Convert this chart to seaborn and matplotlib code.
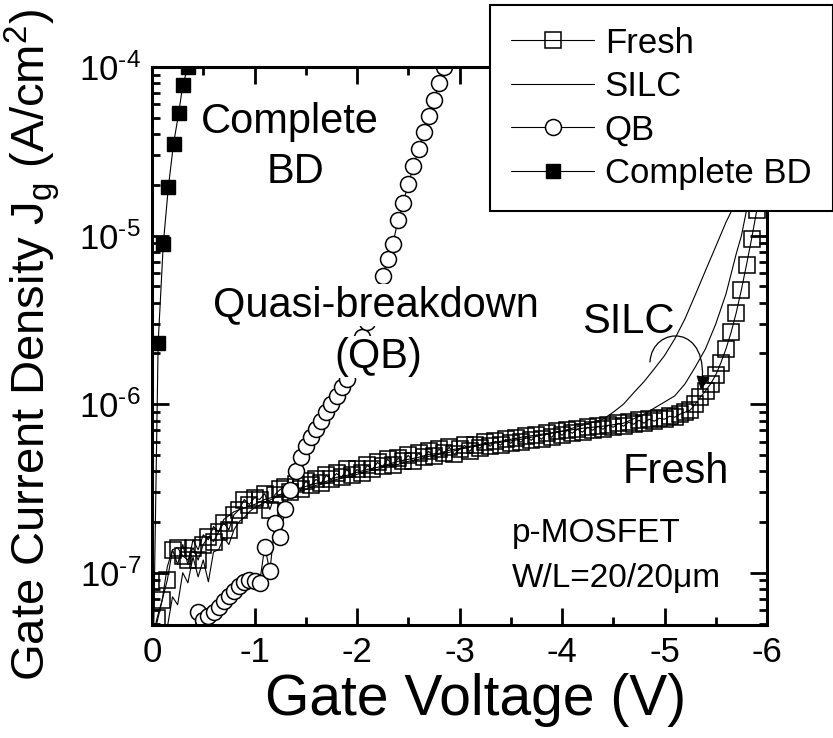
import matplotlib
matplotlib.use("Agg")
import matplotlib.pyplot as plt
import seaborn as sns
import pandas as pd
from matplotlib.ticker import LogLocator, MultipleLocator, FixedLocator, FixedFormatter, NullFormatter, FuncFormatter
from matplotlib.patches import FancyArrowPatch
from matplotlib.path import Path
import math

# ---------------- data ----------------
fresh_v = [0.00, -0.05, -0.10, -0.15, -0.20, -0.25, -0.30, -0.35, -0.40, -0.45,
           -0.50, -0.55, -0.60, -0.65, -0.70, -0.75, -0.80, -0.85, -0.90, -0.95,
           -1.00, -1.05, -1.10, -1.15, -1.20, -1.25, -1.30, -1.35, -1.40, -1.45,
           -1.50, -1.55, -1.60, -1.65, -1.70, -1.75, -1.80, -1.85, -1.90, -1.95,
           -2.00, -2.05, -2.10, -2.15, -2.20, -2.25, -2.30, -2.35, -2.40, -2.45,
           -2.50, -2.55, -2.60, -2.65, -2.70, -2.75, -2.80, -2.85, -2.90, -2.95,
           -3.00, -3.05, -3.10, -3.15, -3.20, -3.25, -3.30, -3.35, -3.40, -3.45,
           -3.50, -3.55, -3.60, -3.65, -3.70, -3.75, -3.80, -3.85, -3.90, -3.95,
           -4.00, -4.05, -4.10, -4.15, -4.20, -4.25, -4.30, -4.35, -4.40, -4.45,
           -4.50, -4.55, -4.60, -4.65, -4.70, -4.75, -4.80, -4.85, -4.90, -4.95,
           -5.00, -5.05, -5.10, -5.15, -5.20, -5.25, -5.30, -5.35, -5.40, -5.45,
           -5.50, -5.55, -5.60, -5.65, -5.70, -5.75, -5.80, -5.85, -5.90, -5.95]
fresh_j = [3.99e-8, 5.40e-8, 6.91e-8, 9.09e-8, 1.37e-7, 1.41e-7, 1.26e-7, 1.19e-7, 1.41e-7, 1.19e-7,
           1.47e-7, 1.64e-7, 1.53e-7, 1.75e-7, 1.98e-7, 1.80e-7, 2.21e-7, 2.37e-7, 2.72e-7, 2.54e-7,
           2.79e-7, 2.72e-7, 2.95e-7, 2.37e-7, 2.91e-7, 3.12e-7, 3.21e-7, 3.03e-7, 3.34e-7, 3.12e-7,
           3.48e-7, 3.30e-7, 3.58e-7, 3.39e-7, 3.78e-7, 3.58e-7, 3.88e-7, 3.68e-7, 4.10e-7, 3.78e-7,
           4.10e-7, 3.88e-7, 4.33e-7, 4.10e-7, 4.51e-7, 4.27e-7, 4.71e-7, 4.33e-7, 4.77e-7, 4.58e-7,
           4.97e-7, 4.58e-7, 5.11e-7, 4.84e-7, 5.25e-7, 4.91e-7, 5.40e-7, 5.11e-7, 5.55e-7, 5.04e-7,
           5.40e-7, 5.70e-7, 5.25e-7, 5.70e-7, 5.47e-7, 5.94e-7, 5.63e-7, 6.02e-7, 5.70e-7, 6.19e-7,
           5.86e-7, 6.27e-7, 5.94e-7, 6.45e-7, 6.10e-7, 6.54e-7, 6.19e-7, 6.72e-7, 6.36e-7, 6.91e-7,
           6.54e-7, 7.00e-7, 6.72e-7, 7.10e-7, 6.82e-7, 7.30e-7, 7.00e-7, 7.40e-7, 7.10e-7, 7.50e-7,
           7.30e-7, 7.71e-7, 7.40e-7, 7.82e-7, 7.60e-7, 8.03e-7, 7.71e-7, 8.14e-7, 7.93e-7, 8.25e-7,
           8.14e-7, 8.48e-7, 8.37e-7, 8.72e-7, 8.96e-7, 9.21e-7, 1.00e-6, 1.10e-6, 1.20e-6, 1.32e-6,
           1.49e-6, 1.76e-6, 2.13e-6, 2.67e-6, 3.49e-6, 4.77e-6, 6.72e-6, 9.60e-6, 1.41e-5, 2.05e-5]

silc1_v = [0.00, -0.05, -0.10, -0.15, -0.20, -0.25, -0.30, -0.35, -0.40, -0.45,
           -0.50, -0.55, -0.60, -0.65, -0.70, -0.75, -0.80, -0.85, -0.90, -0.95,
           -1.0, -1.1, -1.2, -1.3, -1.4, -1.5, -1.6, -1.7, -1.8, -1.9, -2.0,
           -2.1, -2.2, -2.3, -2.4, -2.5, -2.6, -2.7, -2.8, -2.9, -3.0,
           -3.2, -3.4, -3.6, -3.8, -4.0, -4.2, -4.4,
           -4.5, -4.6, -4.7, -4.8, -4.9, -5.0, -5.1, -5.2, -5.3, -5.4, -5.5, -5.6, -5.7, -5.8, -5.9]
silc1_j = [3.03e-8, 3.48e-8, 3.99e-8, 4.77e-8, 7.20e-8, 6.46e-8, 1.00e-7, 8.72e-8, 1.24e-7, 9.46e-8,
           1.19e-7, 8.84e-8, 1.33e-7, 1.37e-7, 1.62e-7, 1.47e-7, 1.80e-7, 2.01e-7, 2.13e-7, 2.30e-7,
           2.43e-7, 2.61e-7, 2.79e-7, 2.87e-7, 3.03e-7, 3.12e-7, 3.30e-7, 3.39e-7, 3.58e-7, 3.68e-7, 3.83e-7,
           4.00e-7, 4.10e-7, 4.33e-7, 4.39e-7, 4.58e-7, 4.71e-7, 4.91e-7, 5.04e-7, 5.18e-7, 5.40e-7,
           5.70e-7, 5.94e-7, 6.19e-7, 6.54e-7, 6.91e-7, 7.50e-7, 8.14e-7,
           8.96e-7, 1.00e-6, 1.17e-6, 1.36e-6, 1.62e-6, 1.94e-6, 2.44e-6, 3.21e-6, 4.45e-6, 6.20e-6,
           8.62e-6, 1.20e-5, 1.60e-5, 2.18e-5, 3.30e-5]

silc2_v = [0.00, -0.05, -0.10, -0.15, -0.20, -0.25, -0.30, -0.35, -0.40, -0.45,
           -0.50, -0.55, -0.60, -0.65, -0.70, -0.80, -0.90,
           -1.0, -1.1, -1.2, -1.3, -1.4, -1.5, -1.6, -1.7, -1.8, -1.9, -2.0,
           -2.1, -2.2, -2.3, -2.4, -2.5, -2.6, -2.7, -2.8, -2.9, -3.0,
           -3.2, -3.4, -3.6, -3.8, -4.0, -4.2, -4.4, -4.6, -4.8,
           -5.0, -5.1, -5.2, -5.3, -5.4, -5.5, -5.6, -5.7, -5.75, -5.8, -5.85, -5.9]
silc2_j = [3.99e-8, 5.11e-8, 6.91e-8, 1.09e-7, 1.37e-7, 1.12e-7, 1.47e-7, 1.12e-7, 1.57e-7, 1.37e-7,
           1.68e-7, 1.57e-7, 1.88e-7, 1.75e-7, 2.07e-7, 2.30e-7, 2.43e-7,
           2.54e-7, 2.72e-7, 2.83e-7, 2.99e-7, 3.12e-7, 3.25e-7, 3.39e-7, 3.48e-7, 3.68e-7, 3.78e-7, 3.94e-7,
           4.10e-7, 4.22e-7, 4.39e-7, 4.58e-7, 4.71e-7, 4.84e-7, 5.04e-7, 5.11e-7, 5.33e-7, 5.47e-7,
           5.78e-7, 6.02e-7, 6.36e-7, 6.63e-7, 6.91e-7, 7.20e-7, 7.40e-7, 7.71e-7, 8.72e-7,
           1.03e-6, 1.12e-6, 1.32e-6, 1.66e-6, 2.13e-6, 2.99e-6, 4.51e-6, 7.81e-6, 9.96e-6,
           1.41e-5, 2.05e-5, 3.30e-5]

qb_v = [-0.40, -0.45, -0.50, -0.55, -0.60, -0.65, -0.70, -0.75, -0.80, -0.85,
        -0.90, -0.95, -1.00, -1.05, -1.10, -1.15, -1.20, -1.25, -1.30, -1.35,
        -1.40, -1.45, -1.50, -1.55, -1.60, -1.65, -1.70, -1.75, -1.80, -1.85,
        -1.90, -1.95, -2.00, -2.05, -2.10, -2.15, -2.20, -2.25, -2.30, -2.35,
        -2.40, -2.45, -2.50, -2.55, -2.60, -2.65, -2.70, -2.75, -2.80, -2.85, -2.90]
qb_j = [3.99e-8, 5.86e-8, 5.25e-8, 5.55e-8, 5.86e-8, 6.27e-8, 6.82e-8, 7.30e-8, 7.82e-8, 8.37e-8,
        8.84e-8, 9.09e-8, 8.96e-8, 8.72e-8, 1.43e-7, 1.02e-7, 1.98e-7, 1.64e-7, 2.40e-7, 3.08e-7,
        4.04e-7, 4.84e-7, 5.63e-7, 6.36e-7, 7.10e-7, 7.93e-7, 8.96e-7, 1.00e-6, 1.12e-6, 1.26e-6,
        1.41e-6, 1.71e-6, 2.07e-6, 2.51e-6, 3.08e-6, 3.78e-6, 4.64e-6, 5.77e-6, 7.30e-6, 8.96e-6,
        1.23e-5, 1.57e-5, 2.01e-5, 2.57e-5, 3.25e-5, 4.10e-5, 5.11e-5, 6.36e-5, 8.03e-5, 1.00e-4, 1.26e-4]

bd_v = [0.00, -0.06, -0.11, -0.16, -0.21, -0.26, -0.30, -0.35]
bd_j = [1.0e-8, 2.3e-6, 8.9e-6, 1.95e-5, 3.5e-5, 5.3e-5, 7.8e-5, 1.0e-4]

legend_labels = ["Fresh", "SILC", "QB", "Complete BD"]
xtick_vals = [0, -1, -2, -3, -4, -5, -6]
xtick_labels = ["0", "-1", "-2", "-3", "-4", "-5", "-6"]

# ---------------- style ----------------
sns.set_style("ticks")
plt.rcParams["font.family"] = ["Liberation Sans", "DejaVu Sans"]
plt.rcParams["mathtext.fontset"] = "custom"
plt.rcParams["mathtext.rm"] = "Liberation Sans"
plt.rcParams["mathtext.it"] = "Liberation Sans:italic"
plt.rcParams["mathtext.bf"] = "Liberation Sans:bold"
plt.rcParams["axes.unicode_minus"] = False
for k in ["text.color", "axes.labelcolor", "xtick.color", "ytick.color", "axes.edgecolor"]:
    plt.rcParams[k] = "black"

fig = plt.figure(figsize=(8.33, 7.38), dpi=100)
L, R, T, B = 152, 767, 67, 625
W, H = 833, 738
ax = fig.add_axes([L / W, 1 - B / H, (R - L) / W, (B - T) / H])

df_fresh = pd.DataFrame({"V": fresh_v, "J": fresh_j})
df_s1 = pd.DataFrame({"V": silc1_v, "J": silc1_j})
df_s2 = pd.DataFrame({"V": silc2_v, "J": silc2_j})
df_qb = pd.DataFrame({"V": qb_v, "J": qb_j})
df_bd = pd.DataFrame({"V": bd_v, "J": bd_j})

common = dict(x="V", y="J", sort=False, estimator=None, ax=ax, legend=False, color="black", linewidth=0.8)

sns.lineplot(data=df_fresh, marker="s", markersize=11, markerfacecolor="none",
             markeredgecolor="black", markeredgewidth=1.1, **common)
h_fresh = ax.lines[-1]
sns.lineplot(data=df_s1, **common)
h_silc = ax.lines[-1]
sns.lineplot(data=df_s2, **common)
sns.lineplot(data=df_qb, marker="o", markersize=11.5, markerfacecolor="white",
             markeredgecolor="black", markeredgewidth=1.1, **common)
h_qb = ax.lines[-1]
sns.lineplot(data=df_bd, marker="s", markersize=9.5, markerfacecolor="black",
             markeredgecolor="black", markeredgewidth=1.0, **common)
h_bd = ax.lines[-1]

ax.set_yscale("log")
ax.set_xlim(0, -6)
ax.set_ylim(4.9e-8, 1e-4)

def ylab(val, pos):
    e = int(round(math.log10(val)))
    return r"$\mathregular{10^{\text{%d}}}$" % e if e >= 0 else r"$\mathregular{10^{\text{-%d}}}$" % (-e)

ax.xaxis.set_major_locator(FixedLocator(xtick_vals))
ax.xaxis.set_major_formatter(FixedFormatter(xtick_labels))
ax.xaxis.set_minor_locator(MultipleLocator(0.5))
ax.yaxis.set_major_locator(LogLocator(base=10, numticks=20))
ax.yaxis.set_major_formatter(FuncFormatter(ylab))
ax.yaxis.set_minor_locator(LogLocator(base=10, subs=[2, 3, 4, 5, 6, 7, 8, 9], numticks=20))
ax.yaxis.set_minor_formatter(NullFormatter())

ax.tick_params(which="major", direction="in", length=12, width=2, top=True, right=True,
               labelsize=25, pad=8, colors="black")
ax.tick_params(which="minor", direction="in", length=6, width=2, top=True, right=True)
for s in ax.spines.values():
    s.set_linewidth(2.2)
    s.set_color("black")

ax.set_xlabel("Gate Voltage (V)", fontsize=41)
ax.set_ylabel("Gate Current Density J$_\\mathregular{g}$ (A/cm$^\\mathregular{2}$)", fontsize=34)
ax.xaxis.label.set_va("baseline")
ax.xaxis.set_label_coords((476 - L) / (R - L), (B - 715) / (B - T))
ax.yaxis.label.set_va("baseline")
ax.yaxis.set_label_coords((45 - L) / (R - L), (B - 345) / (B - T))

def axp(px, py):
    return ((px - L) / (R - L), (B - py) / (B - T))

tkw = dict(transform=ax.transAxes, fontsize=30, va="baseline", ha="center", color="black")
ax.text(*axp(290, 133), "Complete", **tkw)
ax.text(*axp(296, 183), "BD", **tkw)
wb = dict(facecolor="white", edgecolor="none", pad=1.0)
ax.text(*axp(376, 316), "Quasi-breakdown", bbox=wb, zorder=6, **tkw)
ax.text(*axp(378, 368), "(QB)", bbox=wb, zorder=6, **tkw)
ax.text(*axp(628, 333), "SILC", **tkw)
ax.text(*axp(676, 483), "Fresh", **tkw)
tkw2 = dict(transform=ax.transAxes, fontsize=24, va="baseline", ha="left", color="black")
ax.text(*axp(512, 542), "p-MOSFET", **tkw2)
ax.text(*axp(512, 587), "W/L=20/20\u03bcm", **tkw2)

# curved arrow (SILC shift)
verts = [axp(650, 362), axp(652, 325), axp(712, 322), axp(701, 390)]
codes = [Path.MOVETO, Path.CURVE4, Path.CURVE4, Path.CURVE4]
arrow = FancyArrowPatch(path=Path(verts, codes), transform=ax.transAxes,
                        arrowstyle="-|>,head_length=0.6,head_width=0.3",
                        mutation_scale=14, color="black", linewidth=0.9)
ax.add_patch(arrow)

leg = ax.legend([h_fresh, h_silc, h_qb, h_bd], legend_labels,
                loc="upper right", bbox_to_anchor=(1.0, 1 - 5 / H),
                bbox_transform=fig.transFigure, borderaxespad=0,
                fontsize=25, frameon=True, fancybox=False, framealpha=1,
                handlelength=2.4, handletextpad=0.3, borderpad=0.62,
                labelspacing=0.3)
leg.get_frame().set_edgecolor("black")
leg.get_frame().set_linewidth(1.5)
leg.set_zorder(10)

fig.savefig("out.png", dpi=100)
